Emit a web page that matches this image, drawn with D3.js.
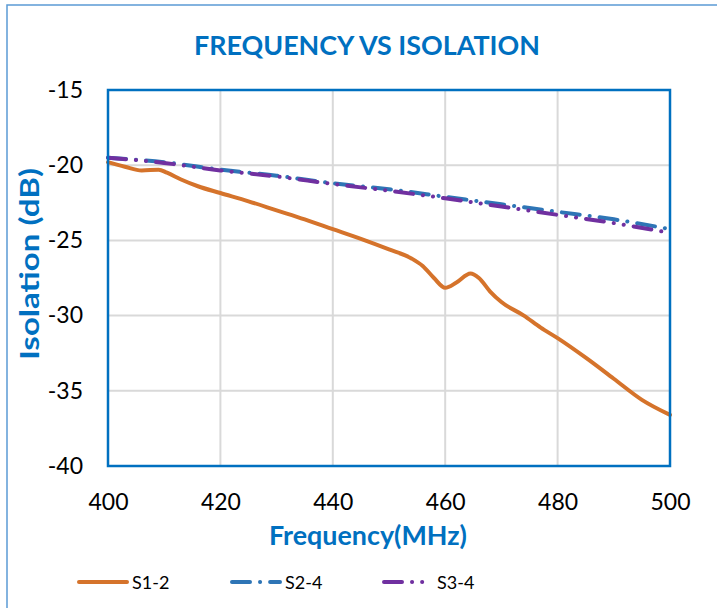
<!DOCTYPE html>
<html>
<head>
<meta charset="utf-8">
<title>Frequency vs Isolation</title>
<style>
  body { margin: 0; background: #fff; }
  svg { display: block; font-family: Lato, 'Open Sans', sans-serif; }
  .tick text { font-size: 23px; fill: #000; }
</style>
</head>
<body>
<div id="chart"></div>
<script src="https://d3js.org/d3.v7.min.js"></script>
<script>
// data
var freqS12 = [400, 403, 406, 409, 410.5, 413, 416, 420, 425, 430, 435, 440, 445, 450, 454, 456, 458, 460, 462, 464.5, 466, 468, 470, 474, 477, 480, 485, 490, 495, 500];
var valS12  = [-19.8, -20.1, -20.35, -20.3, -20.5, -20.95, -21.4, -21.85, -22.4, -23.0, -23.6, -24.25, -24.9, -25.6, -26.2, -26.7, -27.5, -28.15, -27.8, -27.2, -27.5, -28.4, -29.1, -30.0, -30.8, -31.5, -32.8, -34.2, -35.6, -36.6];
var freqS = [400, 410, 420, 430, 440, 450, 460, 470, 480, 490, 500];
var valS24 = [-19.5, -19.8, -20.3, -20.7, -21.2, -21.6, -22.1, -22.6, -23.1, -23.6, -24.25];
var valS34 = [-19.5, -19.85, -20.35, -20.75, -21.25, -21.7, -22.2, -22.75, -23.3, -23.85, -24.5];
var xTicks = [400, 420, 440, 460, 480, 500];
var yTicks = [-15, -20, -25, -30, -35, -40];

var width = 717, height = 608;
var margin = {top: 90, right: 47, bottom: 142, left: 108};

var svg = d3.select("#chart").append("svg")
    .attr("width", width)
    .attr("height", height);

// outer frame
svg.append("rect")
    .attr("x", 7).attr("y", 5)
    .attr("width", width).attr("height", height)
    .attr("fill", "none")
    .attr("stroke", "#5B9BD5")
    .attr("stroke-width", 1.5);

var x = d3.scaleLinear().domain([400, 500]).range([margin.left, width - margin.right]);
var y = d3.scaleLinear().domain([-40, -15]).range([height - margin.bottom, margin.top]);

// gridlines
svg.append("g").selectAll("line")
    .data(yTicks.slice(1, -1))
    .join("line")
    .attr("x1", x(400)).attr("x2", x(500))
    .attr("y1", function(d){ return y(d); }).attr("y2", function(d){ return y(d); })
    .attr("stroke", "#D9D9D9").attr("stroke-width", 2);
svg.append("g").selectAll("line")
    .data(xTicks.slice(1, -1))
    .join("line")
    .attr("y1", y(-15)).attr("y2", y(-40))
    .attr("x1", function(d){ return x(d); }).attr("x2", function(d){ return x(d); })
    .attr("stroke", "#D9D9D9").attr("stroke-width", 2);

// axes (labels only)
var xAxis = svg.append("g")
    .attr("transform", "translate(0," + y(-40) + ")")
    .call(d3.axisBottom(x).tickValues(xTicks).tickSize(0).tickPadding(28));
var yAxis = svg.append("g")
    .attr("transform", "translate(" + x(400) + ",0)")
    .call(d3.axisLeft(y).tickValues(yTicks).tickSize(0).tickPadding(25).tickFormat(function(d){ return "-" + Math.abs(d); }));
xAxis.select(".domain").remove();
yAxis.select(".domain").remove();
xAxis.selectAll("text").attr("font-family", "Lato, sans-serif");
yAxis.selectAll("text").attr("font-family", "Lato, sans-serif");

// lines
var series = [
    {name: "S1-2", f: freqS12, v: valS12, color: "#D5732B", dash: null},
    {name: "S2-4", f: freqS, v: valS24, color: "#2E75B6", dash: "18 10 0.1 10"},
    {name: "S3-4", f: freqS, v: valS34, color: "#7030A0", dash: "18 10 0.1 10 0.1 10"}
];

var line = d3.line()
    .x(function(d){ return x(d[0]); })
    .y(function(d){ return y(d[1]); })
    .curve(d3.curveMonotoneX);

svg.append("g").selectAll("path")
    .data(series)
    .join("path")
    .attr("d", function(s){ return line(s.f.map(function(f, i){ return [f, s.v[i]]; })); })
    .attr("fill", "none")
    .attr("stroke", function(s){ return s.color; })
    .attr("stroke-width", 4)
    .attr("stroke-linecap", "round")
    .attr("stroke-dasharray", function(s){ return s.dash; });

// plot border
svg.append("rect")
    .attr("x", x(400)).attr("y", y(-15))
    .attr("width", x(500) - x(400)).attr("height", y(-40) - y(-15))
    .attr("fill", "none")
    .attr("stroke", "#0070C0")
    .attr("stroke-width", 2.5);

// titles
svg.append("text")
    .attr("x", 367).attr("y", 55)
    .attr("text-anchor", "middle")
    .attr("font-size", 27).attr("font-weight", "bold")
    .attr("fill", "#0070C0")
    .attr("textLength", 346).attr("lengthAdjust", "spacingAndGlyphs")
    .text("FREQUENCY VS ISOLATION");

svg.append("text")
    .attr("x", 368).attr("y", 545)
    .attr("text-anchor", "middle")
    .attr("font-size", 26).attr("font-weight", "bold")
    .attr("fill", "#0070C0")
    .attr("textLength", 198).attr("lengthAdjust", "spacingAndGlyphs")
    .text("Frequency(MHz)");

svg.append("text")
    .attr("transform", "translate(39,264) rotate(-90)")
    .attr("text-anchor", "middle")
    .attr("font-size", 26).attr("font-weight", "bold")
    .attr("fill", "#0070C0")
    .attr("textLength", 192).attr("lengthAdjust", "spacingAndGlyphs")
    .text("Isolation (dB)");

// legend
var legendX = [77, 230, 382];
var legend = svg.append("g").selectAll("g")
    .data(series)
    .join("g")
    .attr("transform", function(d, i){ return "translate(" + legendX[i] + ",582)"; });
legend.append("line")
    .attr("x1", 2).attr("x2", 50)
    .attr("stroke", function(d){ return d.color; })
    .attr("stroke-width", 4)
    .attr("stroke-linecap", "round")
    .attr("stroke-dasharray", function(d){ return d.dash; });
legend.append("text")
    .attr("x", 55).attr("y", 7)
    .attr("font-size", 18)
    .attr("fill", "#000")
    .text(function(d){ return d.name; });
</script>
</body>
</html>
